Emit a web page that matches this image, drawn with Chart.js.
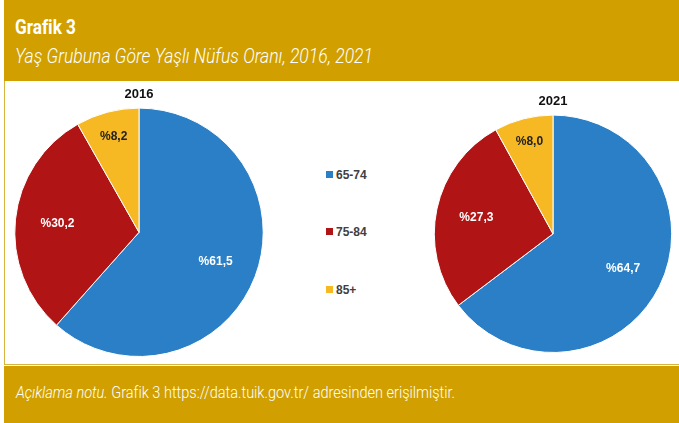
<!DOCTYPE html>
<html lang="tr">
<head>
  <meta charset="UTF-8">
  <title>Grafik 3</title>
  <script src="https://cdn.jsdelivr.net/npm/chart.js"></script>
  <style>
    html, body { margin: 0; padding: 0; background: #fff; }
    body { width: 679px; height: 423px; position: relative; overflow: hidden; font-family: Roboto, "DejaVu Sans Condensed", Arial, sans-serif; }
    .header { position: absolute; left: 4px; top: 0; width: 675px; height: 81px; background: #d19f00; color: #fff; }
    .fit { position: absolute; white-space: nowrap; transform-origin: 0 0; }
    .header .t1 { left: 11px; top: 15px; font-size: 21px; font-weight: bold; }
    .header .t2 { left: 11px; top: 44px; font-size: 21px; font-style: italic; font-weight: 300; }
    .panel { position: absolute; left: 4px; top: 81px; width: 675px; height: 284px; border-left: 1px solid #d9b340; border-bottom: 1px solid #d9b340; box-sizing: border-box; background: #fff; }
    .footer { position: absolute; left: 4px; top: 366px; width: 675px; height: 57px; background: #d19f00; color: #fff; }
    .footer .t { left: 12px; top: 17px; font-size: 16px; font-weight: 300; }
    canvas.pie { position: absolute; }
    .legend { position: absolute; left: 326px; top: 0; font-family: Arial, "Liberation Sans", sans-serif; font-size: 12px; font-weight: bold; color: #404040; }
    .legend div { position: absolute; white-space: nowrap; }
    .legend span { display: inline-block; width: 7px; height: 7px; margin-right: 3px; vertical-align: 1px; }
  </style>
</head>
<body>
  <div class="header">
    <div class="fit t1" data-w="61">Grafik 3</div>
    <div class="fit t2" data-w="358">Yaş Grubuna Göre Yaşlı Nüfus Oranı, 2016, 2021</div>
  </div>
  <div class="panel"></div>
  <div class="footer">
    <div class="fit t" data-w="439"><i>Açıklama notu.</i> Grafik 3 https://data.tuik.gov.tr/ adresinden erişilmiştir.</div>
  </div>

  <canvas id="pie2016" class="pie" width="260" height="273" style="left:9px; top:84px; width:260px; height:273px;"></canvas>
  <canvas id="pie2021" class="pie" width="250" height="262" style="left:428px; top:91px; width:250px; height:262px;"></canvas>
  <div class="legend" id="legend"></div>

  <script>
    const ageGroups = ['65-74', '75-84', '85+'];
    const share2016 = [61.5, 30.2, 8.2];
    const share2021 = [64.7, 27.3, 8.0];
    const sliceColors = ['#2a7fc6', '#b01414', '#f6b823'];
    const labelColors = ['#ffffff', '#ffffff', '#222222'];

    // the original uses a narrow DIN-like face, squeeze text to its width
    document.querySelectorAll('.fit').forEach(el => {
      const w = el.getBoundingClientRect().width;
      el.style.transform = 'scaleX(' + (el.dataset.w / w) + ')';
    });

    // legend in the middle
    const legendTops = [168, 225, 283];
    const legend = document.getElementById('legend');
    ageGroups.forEach((g, i) => {
      const d = document.createElement('div');
      d.style.top = legendTops[i] + 'px';
      d.innerHTML = '<span style="background:' + sliceColors[i] + '"></span>' + g;
      legend.appendChild(d);
    });

    // draws "%61,5" style labels inside slices
    const sliceLabels = {
      id: 'sliceLabels',
      afterDatasetsDraw(chart) {
        const ctx = chart.ctx;
        const meta = chart.getDatasetMeta(0);
        const data = chart.data.datasets[0].data;
        ctx.save();
        ctx.font = 'bold 12px Arial, "Liberation Sans", sans-serif';
        ctx.textAlign = 'center';
        ctx.textBaseline = 'middle';
        meta.data.forEach((arc, i) => {
          const p = arc.getProps(['x', 'y', 'startAngle', 'endAngle', 'outerRadius']);
          const mid = (p.startAngle + p.endAngle) / 2;
          const f = data[i] < 10 ? 0.8 : 0.66;
          const x = p.x + Math.cos(mid) * p.outerRadius * f;
          const y = p.y + Math.sin(mid) * p.outerRadius * f;
          ctx.fillStyle = labelColors[i];
          ctx.fillText('%' + data[i].toFixed(1).replace('.', ','), x, y);
        });
        ctx.restore();
      }
    };

    function makePie(id, year, values) {
      return new Chart(document.getElementById(id), {
        type: 'pie',
        data: {
          labels: ageGroups,
          datasets: [{ data: values, backgroundColor: sliceColors, borderColor: '#ffffff', borderWidth: 1 }]
        },
        options: {
          responsive: false,
          animation: false,
          events: [],
          layout: { padding: 0 },
          plugins: {
            legend: { display: false },
            tooltip: { enabled: false },
            title: {
              display: true,
              text: year,
              color: '#111',
              font: { family: 'Arial, "Liberation Sans", sans-serif', size: 13, weight: 'bold' },
              padding: { top: 3, bottom: 5 }
            }
          }
        },
        plugins: [sliceLabels]
      });
    }

    makePie('pie2016', '2016', share2016);
    makePie('pie2021', '2021', share2021);
  </script>
</body>
</html>
